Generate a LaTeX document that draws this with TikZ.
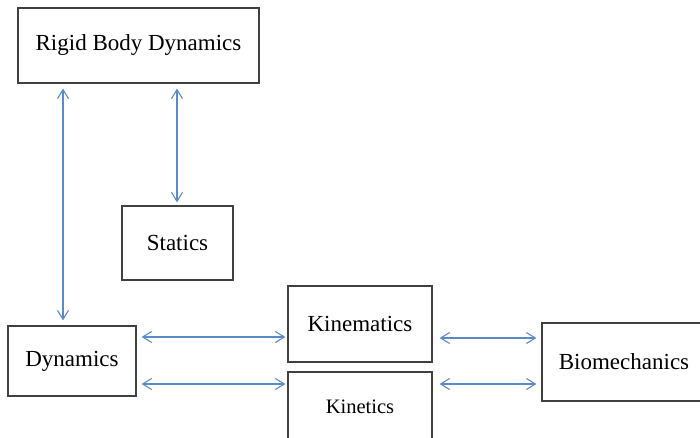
\documentclass[tikz,border=0pt]{standalone}
\usepackage{fontspec}
\setmainfont{Liberation Serif}
\usetikzlibrary{arrows.meta}
\definecolor{boxgray}{RGB}{64,64,64}
\definecolor{linkblue}{RGB}{91,139,198}

\begin{document}
\begin{tikzpicture}[x=1pt,y=-1pt,>={Straight Barb[length=9pt,width=11pt]},
	main node/.style={draw=boxgray,line width=1.2pt,rectangle,inner sep=0pt,font=\fontsize{23}{28}\selectfont},
	link/.style={<->,draw=linkblue,line width=1.1pt,shorten <=5pt,shorten >=5pt}]
	\useasboundingbox (0,0) rectangle (700,438);
	% Nodes
	  % Top
	  \node (rbd) at (138.5,45.5) [main node,minimum width=241pt,minimum height=75pt] {Rigid Body Dynamics};
	  \node (stat) at (177.5,243) [main node,minimum width=111pt,minimum height=74pt] {Statics};
	  
	  % Bottom row
	  \node (dyn) at (72,361) [main node,minimum width=128pt,minimum height=70pt] {Dynamics};
	  \node (kinm) at (360,324) [main node,minimum width=144pt,minimum height=76pt] {Kinematics};
	  \node (kint) at (360,407) [main node,minimum width=144pt,minimum height=70pt,font=\fontsize{20.5}{25}\selectfont] {Kinetics};
	  \node (bio) at (624,362) [main node,minimum width=164pt,minimum height=78pt] {Biomechanics};
	  
	  \coordinate (k1) at ([yshift=-13pt]kinm.west);
	  \coordinate (k2) at ([yshift=23pt]kint.west);
	  \coordinate (b1) at ([yshift=24pt]bio.west);
	  \coordinate (b2) at ([yshift=-22pt]bio.west);
	
	% Edges
	  \draw[link] ([xshift=-9pt]dyn.north) -- ([xshift=-9pt]dyn.north |- rbd.south);
	  \draw[link,shorten <=3pt] ([xshift=-0.5pt]stat.north) -- ([xshift=-0.5pt]stat.north |- rbd.south);
	  
	  \draw[link,shorten >=2pt] (dyn.east |- k1) -- (k1);
	  \draw[link,shorten >=2pt] (dyn.east |- k2) -- (k2);
	  \draw[link,shorten <=7pt] (kinm.east |- b1) -- (b1);
	  \draw[link,shorten <=7pt] (kint.east |- b2) -- (b2);
	  
\end{tikzpicture}
\end{document}
